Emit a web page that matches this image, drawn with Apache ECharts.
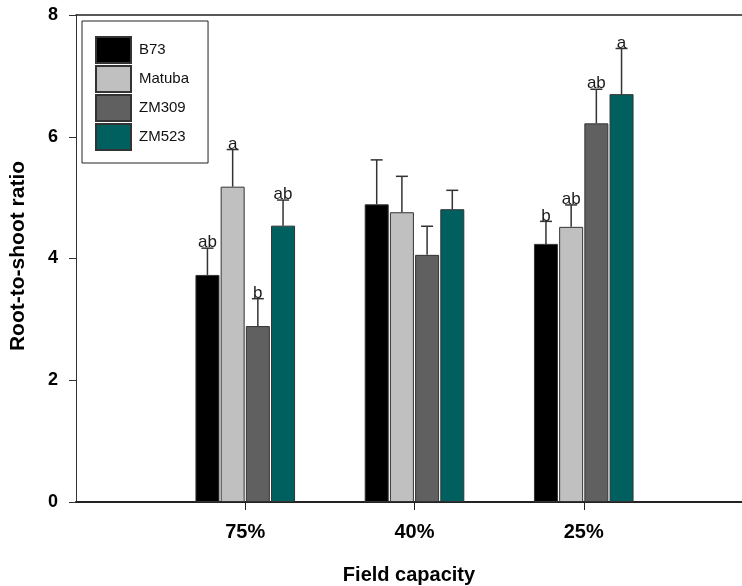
<!DOCTYPE html>
<html><head><meta charset="utf-8">
<script src="https://cdn.jsdelivr.net/npm/echarts@6/dist/echarts.min.js"></script>
<style>html,body{margin:0;padding:0;background:#fff}#c{width:742px;height:586px}</style>
</head><body><div id="c"></div>
<script>
// ---- data ----
const categories = ['75%', '40%', '25%'];
const seriesNames = ['B73', 'Matuba', 'ZM309', 'ZM523'];
const b73 = [3.73, 4.89, 4.24];
const matuba = [5.18, 4.76, 4.52];
const zm309 = [2.89, 4.06, 6.22];
const zm523 = [4.54, 4.81, 6.70];
const b73Err = [0.44, 0.73, 0.37];
const matubaErr = [0.61, 0.59, 0.36];
const zm309Err = [0.45, 0.47, 0.56];
const zm523Err = [0.42, 0.31, 0.75];
const b73Letters = ['ab', '', 'b'];
const matubaLetters = ['a', '', 'ab'];
const zm309Letters = ['b', '', 'ab'];
const zm523Letters = ['ab', '', 'a'];
const yTicks = [0, 2, 4, 6, 8];

// ---- styling ----
const FONT = "'Liberation Sans', Arial, sans-serif";
const colors = ['#000000', '#c0c0c0', '#606060', '#006060'];
const BAR_W = 24, BAR_GAP = 0.05;
const BAR_STEP = BAR_W * (1 + BAR_GAP);

const values = [b73, matuba, zm309, zm523];
const errs = [b73Err, matubaErr, zm309Err, zm523Err];
const letters = [b73Letters, matubaLetters, zm309Letters, zm523Letters];
const axisData = [''].concat(categories, ['']);

const barSeries = seriesNames.map((name, k) => ({
  name, type: 'bar', barWidth: BAR_W, barGap: (BAR_GAP * 100) + '%',
  data: [null].concat(values[k], [null]),
  itemStyle: { color: colors[k], borderColor: '#333', borderWidth: 1 },
  z: 2
}));

const errSeries = seriesNames.map((name, k) => ({
  type: 'custom', z: 5, silent: true,
  data: values[k].map((v, i) => [i + 1, v, v + errs[k][i]]),
  encode: { x: 0, y: [1, 2] },
  renderItem(params, api) {
    const idx = api.value(0);
    const x = api.coord([idx, 0])[0] + (k - 1.5) * BAR_STEP;
    const yTop = api.coord([idx, api.value(1)])[1];
    const yCap = api.coord([idx, api.value(2)])[1];
    const lt = letters[k][params.dataIndex];
    const ls = { stroke: '#333', lineWidth: 1.5 };
    const children = [
      { type: 'line', shape: { x1: x, y1: yTop, x2: x, y2: yCap }, style: ls },
      { type: 'line', shape: { x1: x - 6, y1: yCap, x2: x + 6, y2: yCap }, style: ls }
    ];
    if (lt) children.push({ type: 'text', style: { text: lt, x: x, y: yCap + 3, align: 'center', verticalAlign: 'bottom', fill: '#1a1a1a', font: '17px ' + FONT } });
    return { type: 'group', children };
  }
}));

const chart = echarts.init(document.getElementById('c'));
chart.setOption({
  animation: false,
  backgroundColor: '#fff',
  grid: { left: 76, width: 677, top: 15, height: 487, containLabel: false, outerBoundsMode: 'none' },
  legend: {
    data: seriesNames, orient: 'vertical', left: 82, top: 21,
    padding: [15, 19, 12, 13], itemWidth: 35, itemHeight: 26, itemGap: 1,
    borderColor: '#222', borderWidth: 1, icon: 'rect', selectedMode: false,
    textStyle: { fontSize: 15, fontFamily: FONT, color: '#111', padding: [0, 0, 0, 3] }
  },
  xAxis: [{
    type: 'category', data: axisData, boundaryGap: false,
    axisLine: { show: true, lineStyle: { color: '#222', width: 2 } },
    axisTick: { show: true, length: 8, interval: (i) => i >= 1 && i <= categories.length, lineStyle: { color: '#222', width: 1 } },
    axisLabel: { interval: 0, margin: 20, color: '#000', fontSize: 20, fontWeight: 'bold', fontFamily: FONT },
    splitLine: { show: false }
  }, {
    type: 'category', data: axisData, boundaryGap: false, position: 'top',
    axisLine: { show: true, lineStyle: { color: '#222', width: 1.5 } },
    axisTick: { show: false }, axisLabel: { show: false }, splitLine: { show: false }
  }],
  yAxis: {
    type: 'value', min: yTicks[0], max: yTicks[yTicks.length - 1], interval: yTicks[1] - yTicks[0],
    axisLine: { show: true, lineStyle: { color: '#333', width: 1 } },
    axisTick: { show: true, inside: false, length: 7, lineStyle: { color: '#333' } },
    axisLabel: { margin: 18, color: '#000', fontSize: 18, fontWeight: 'bold', fontFamily: FONT },
    splitLine: { show: false }
  },
  graphic: [
    { type: 'text', x: 409, y: 575, style: { text: 'Field capacity', align: 'center', verticalAlign: 'middle', font: 'bold 20px ' + FONT, fill: '#000' } },
    { type: 'text', x: 18, y: 256, rotation: Math.PI / 2, style: { text: 'Root-to-shoot ratio', align: 'center', verticalAlign: 'middle', font: 'bold 21px ' + FONT, fill: '#000' } }
  ],
  series: barSeries.concat(errSeries)
});
</script></body></html>
